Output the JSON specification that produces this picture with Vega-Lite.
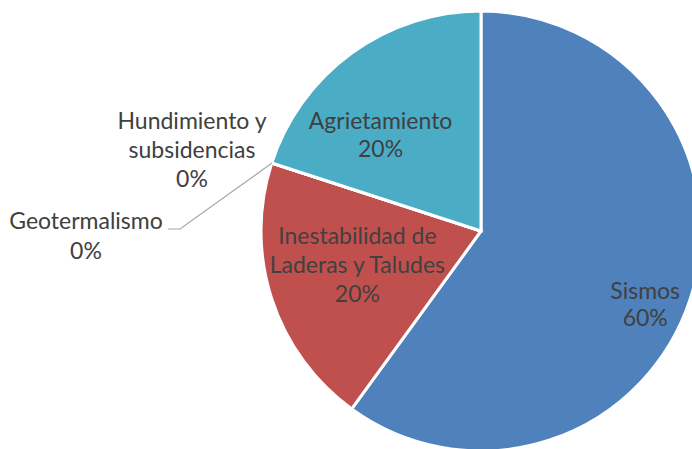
{
  "$schema": "https://vega.github.io/schema/vega-lite/v6.json",
  "autosize": {"type": "none"},
  "width": 440,
  "height": 440,
  "padding": {"left": 261, "top": 11, "right": 0, "bottom": 0},
  "background": "white",
  "config": {"view": {"stroke": null}, "text": {"font": "Lato"}},
  "datasets": {
    "pie": [
      {"cat": "Sismos", "pct": 60, "orden": 1, "label": "Sismos\n60%"},
      {"cat": "Inestabilidad de Laderas y Taludes", "pct": 20, "orden": 2, "label": "Inestabilidad de\nLaderas y Taludes\n20%"},
      {"cat": "Geotermalismo", "pct": 0, "orden": 3, "label": "Geotermalismo\n0%"},
      {"cat": "Hundimiento y subsidencias", "pct": 0, "orden": 4, "label": "Hundimiento y\nsubsidencias\n0%"},
      {"cat": "Agrietamiento", "pct": 20, "orden": 5, "label": "Agrietamiento\n20%"}
    ],
    "leader": [
      {"px": -0.95, "py": 0.309, "k": 1},
      {"px": -1.368, "py": 0.009, "k": 2},
      {"px": -1.423, "py": 0.009, "k": 3}
    ]
  },
  "layer": [
    {
      "data": {"name": "pie"},
      "mark": {"type": "arc", "stroke": "white", "strokeWidth": 3, "outerRadius": 220},
      "encoding": {
        "theta": {"field": "pct", "type": "quantitative", "stack": true},
        "order": {"field": "orden", "type": "quantitative"},
        "color": {
          "field": "cat", "type": "nominal", "legend": null,
          "scale": {
            "domain": ["Sismos", "Inestabilidad de Laderas y Taludes", "Geotermalismo", "Hundimiento y subsidencias", "Agrietamiento"],
            "range": ["#4F81BD", "#C0504D", "#9BBB59", "#8064A2", "#4BACC6"]
          }
        }
      }
    },
    {
      "data": {"name": "leader"},
      "mark": {"type": "line", "color": "#A6A6A6", "strokeWidth": 1.2},
      "encoding": {
        "x": {"field": "px", "type": "quantitative", "scale": {"domain": [-1, 1], "zero": false, "nice": false}, "axis": null},
        "y": {"field": "py", "type": "quantitative", "scale": {"domain": [-1, 1], "zero": false, "nice": false}, "axis": null},
        "order": {"field": "k", "type": "quantitative"}
      }
    },
    {
      "data": {"name": "pie"},
      "mark": {"type": "text", "radius": 180, "dx": -7, "dy": 5.5, "fontSize": 23, "lineHeight": 27, "lineBreak": "\n", "color": "#404040", "baseline": "middle", "align": "center"},
      "encoding": {
        "theta": {"field": "pct", "type": "quantitative", "stack": true},
        "order": {"field": "orden", "type": "quantitative"},
        "text": {"condition": {"test": "datum.cat === 'Sismos'", "field": "label"}, "value": ""}
      }
    },
    {
      "data": {"name": "pie"},
      "mark": {"type": "text", "radius": 130, "dx": 0, "dy": -34, "fontSize": 23, "lineHeight": 29, "lineBreak": "\n", "color": "#404040", "baseline": "middle", "align": "center"},
      "encoding": {
        "theta": {"field": "pct", "type": "quantitative", "stack": true},
        "order": {"field": "orden", "type": "quantitative"},
        "text": {"condition": {"test": "datum.cat === 'Inestabilidad de Laderas y Taludes'", "field": "label"}, "value": ""}
      }
    },
    {
      "data": {"name": "pie"},
      "mark": {"type": "text", "radius": 130, "dx": -24, "dy": -4, "fontSize": 23, "lineHeight": 28, "lineBreak": "\n", "color": "#404040", "baseline": "middle", "align": "center"},
      "encoding": {
        "theta": {"field": "pct", "type": "quantitative", "stack": true},
        "order": {"field": "orden", "type": "quantitative"},
        "text": {"condition": {"test": "datum.cat === 'Agrietamiento'", "field": "label"}, "value": ""}
      }
    },
    {
      "data": {"name": "pie"},
      "mark": {"type": "text", "radius": 0, "dx": -395, "dy": -9, "fontSize": 23, "lineHeight": 30, "lineBreak": "\n", "color": "#404040", "baseline": "middle", "align": "center"},
      "encoding": {
        "theta": {"field": "pct", "type": "quantitative", "stack": true},
        "order": {"field": "orden", "type": "quantitative"},
        "text": {"condition": {"test": "datum.cat === 'Geotermalismo'", "field": "label"}, "value": ""}
      }
    },
    {
      "data": {"name": "pie"},
      "mark": {"type": "text", "radius": 0, "dx": -289, "dy": -109, "fontSize": 23, "lineHeight": 29, "lineBreak": "\n", "color": "#404040", "baseline": "middle", "align": "center"},
      "encoding": {
        "theta": {"field": "pct", "type": "quantitative", "stack": true},
        "order": {"field": "orden", "type": "quantitative"},
        "text": {"condition": {"test": "datum.cat === 'Hundimiento y subsidencias'", "field": "label"}, "value": ""}
      }
    }
  ]
}
